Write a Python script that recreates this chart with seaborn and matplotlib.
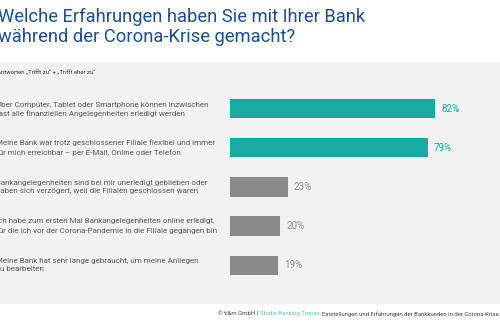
import matplotlib
matplotlib.use("Agg")
import matplotlib.pyplot as plt
import seaborn as sns
import pandas as pd
from matplotlib.patches import Rectangle

sns.set_theme(style="white")
plt.rcParams['font.family'] = ['Roboto', 'DejaVu Sans']

categories = [
    "Über Computer, Tablet oder Smartphone können inzwischen\nfast alle finanziellen Angelegenheiten erledigt werden",
    "Meine Bank war trotz geschlossener Filiale flexibel und immer\nfür mich erreichbar – per E-Mail, Online oder Telefon",
    "Bankangelegenheiten sind bei mir unerledigt geblieben oder\nhaben sich verzögert, weil die Filialen geschlossen waren",
    "Ich habe zum ersten Mal Bankangelegenheiten online erledigt,\nfür die ich vor der Corona-Pandemie in die Filiale gegangen bin",
    "Meine Bank hat sehr lange gebraucht, um meine Anliegen\nzu bearbeiten",
]
values = [82, 79, 23, 20, 19]
groups = ["hoch", "hoch", "niedrig", "niedrig", "niedrig"]
value_labels = ["82%", "79%", "23%", "20%", "19%"]

title = "Welche Erfahrungen haben Sie mit Ihrer Bank\nwährend der Corona-Krise gemacht?"
subtitle = "Antworten „Trifft zu“ + „Trifft eher zu“"

TEAL = "#17aba4"
GREY = "#8a8a8a"
palette = {"hoch": TEAL, "niedrig": GREY}

df = pd.DataFrame({"cat": categories, "val": values, "grp": groups})

W, H = 500, 330
fig = plt.figure(figsize=(5, 3.3), dpi=100)
fig.patch.set_facecolor("white")

# grey panel
fig.patches.append(Rectangle((0, 1 - 304 / H), 1, (304 - 62) / H,
                             transform=fig.transFigure, facecolor="#f2f2f2",
                             edgecolor="none", zorder=-5))

ax = fig.add_axes([230 / W, 1 - 284.7 / H, 250 / W, 195.5 / H])
ax.set_zorder(2)
ax.set_facecolor("none")
sns.barplot(data=df, y="cat", x="val", hue="grp", palette=palette,
            orient="h", width=0.49, dodge=False, legend=False, ax=ax,
            saturation=1, linewidth=0, edgecolor="none")
ax.set_xlim(0, 100)
ax.set_ylim(4.5, -0.5)
ax.set_xticks([])
ax.set_yticks([])
ax.set_xlabel("")
ax.set_ylabel("")
for s in ax.spines.values():
    s.set_visible(False)

for i, (v, lab, g) in enumerate(zip(values, value_labels, groups)):
    ax.text(v + 2.5, i, lab, va="center", ha="left", fontsize=7,
            color=TEAL if g == "hoch" else "#8c8c8c")

# category labels (left, partially cut)
for i, c in enumerate(categories):
    ycen = 108.7 + i * 39.1
    fig.text(-4 / W, 1 - ycen / H, c, ha="left", va="center", fontsize=5.8,
             color="#5a5a5a", linespacing=1.5)

fig.text(-2 / W, 1 - 8 / H, title, ha="left", va="top", fontsize=13.2,
         color="#1f4e8c", linespacing=1.15)
fig.text(-3 / W, 1 - 73 / H, subtitle, ha="left", va="center", fontsize=4.3,
         color="#333333")

# footer
fx = 218 / W
fy = 1 - 314 / H
t1 = fig.text(fx, fy, "© ti&m GmbH | ", ha="left", va="center", fontsize=4.3, color="#444444")
fig.canvas.draw()
r = fig.canvas.get_renderer()
bb = t1.get_window_extent(r)
t2 = fig.text(bb.x1 / W, fy, "Studie Banking-Trends: ", ha="left", va="center", fontsize=4.3, color="#5cc0b8")
bb2 = t2.get_window_extent(r)
fig.text(bb2.x1 / W, fy, "Einstellungen und Erfahrungen der Bankkunden in der Corona-Krise, 2020",
         ha="left", va="center", fontsize=4.3, color="#444444")

fig.savefig("out.png", dpi=100)
